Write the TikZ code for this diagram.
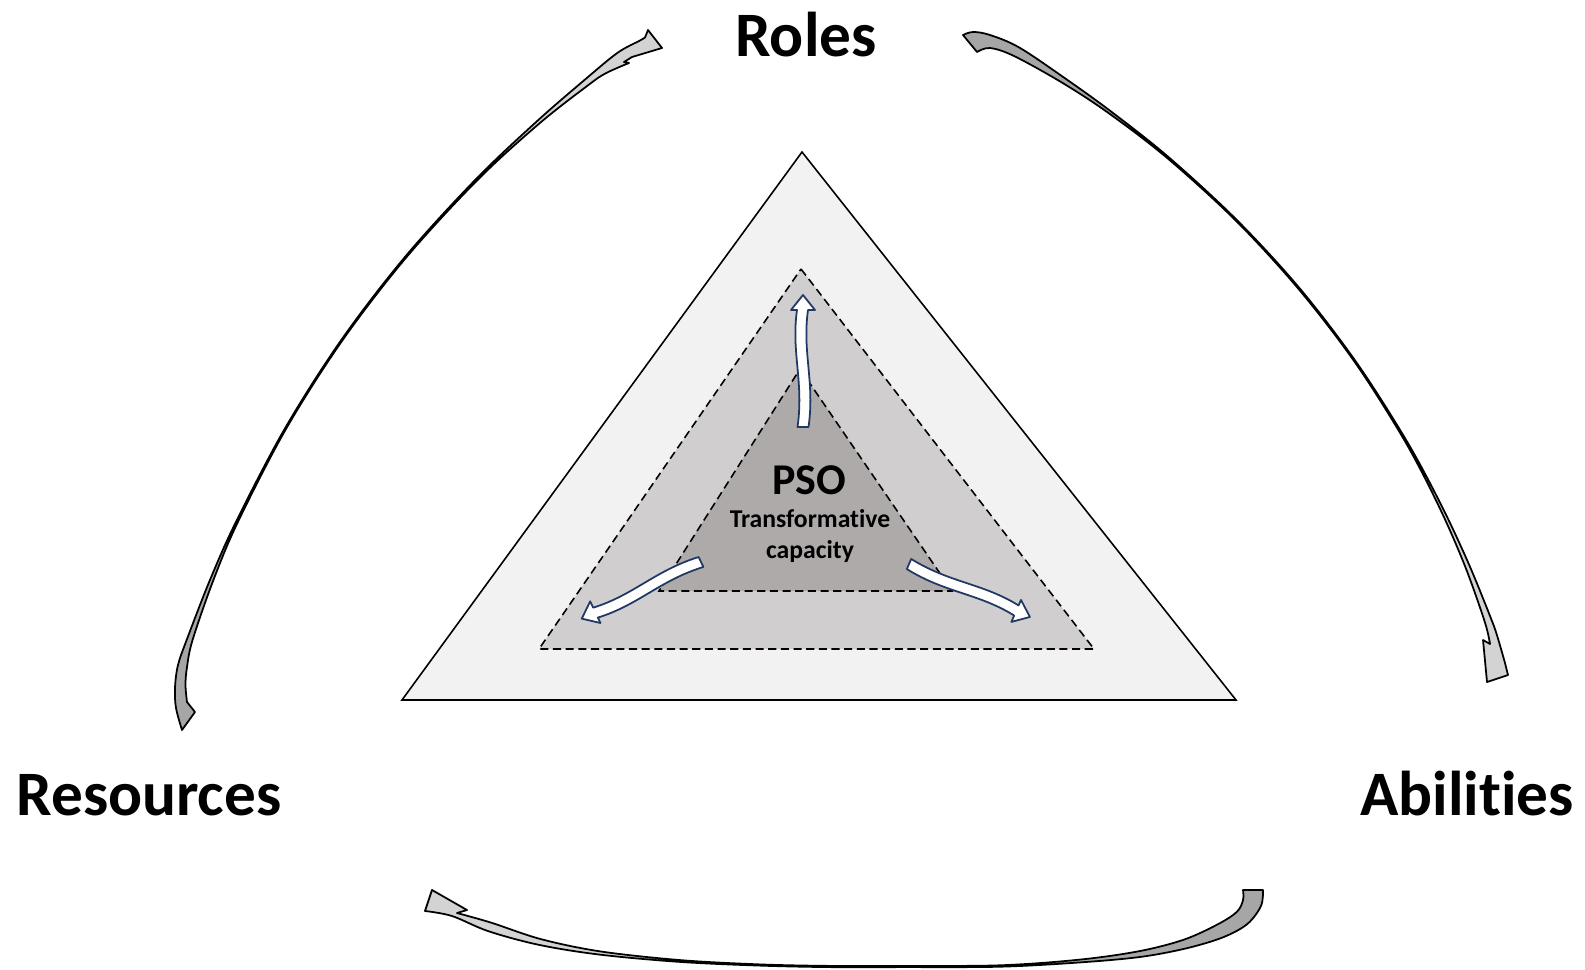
\documentclass[tikz,border=0pt]{standalone}
\usepackage{fontspec}
\setmainfont{Carlito}[Ligatures=NoCommon]
\definecolor{outerfill}{HTML}{F2F2F2}
\definecolor{midfill}{HTML}{D0CECE}
\definecolor{corefill}{HTML}{AEAAAA}
\definecolor{bandlight}{HTML}{D3D3D3}
\definecolor{banddark}{HTML}{A6A6A6}
\definecolor{navyline}{RGB}{32,56,100}

% outlines of the three large curved arrows (pixel units, y downwards)
\newcommand\bigarcA{plot[smooth,tension=0.55] coordinates {(182,730) (176,708) (175,688) (178,665) (187.4,638) (210.2,579.4) (236,521.8) (284.8,428.7) (341.2,340.1) (405.2,256.7) (476.1,179) (537,121.2) (584.7,79.8) (617.4,52.9) (640,40.5) (645,37.5)} -- (648,30) -- (662,48) -- (632,57) -- (624,62) -- (629,63) -- plot[smooth,tension=0.55] coordinates {(629,63) (606.1,73.1) (588.7,84.8) (539.2,123.6) (477.3,180.2) (406.2,257.5) (342.2,340.7) (285.8,429.3) (237.6,522.6) (213.2,580.6) (192.6,639.9) (187,667) (185.5,685) (187,702)} -- (195,712) -- cycle}
\newcommand\bigarcB{plot[smooth,tension=0.55] coordinates {(963,35) (973,32) (990,35) (1019.4,47.6) (1065.6,78.7) (1110.9,111.4) (1169,157.5) (1237.1,220.3) (1299.8,288.5) (1356.2,362.1) (1406.1,440) (1441.4,505.4) (1468.9,564.3) (1491.3,619.3) (1497.5,637) (1505,663)} -- (1508,675) -- (1487,682) -- (1483,640) -- (1490,644) -- plot[smooth,tension=0.55] coordinates {(1490,644) (1484.7,621.7) (1464.9,565.9) (1439,506.6) (1404.7,440.8) (1355.2,362.7) (1298.8,289.3) (1236.3,221.1) (1168,158.7) (1109.3,113.6) (1062.8,83.1) (1014.4,56.2) (990,48) (977,52)} -- cycle}
\newcommand\bigarcC{plot[smooth,tension=0.55] coordinates {(1263,890) (1261,905.9) (1247.3,924) (1223,937.3) (1186.4,948.3) (1140.5,956.9) (1080.1,962.4) (1000,966.7) (900,967.1) (830,967.1) (760,965.6) (679.9,961.9) (599.7,954.6) (539.2,944.9) (488.4,931.2) (452,916) (425,911)} -- (432,890) -- (467,910) -- (457,913) -- plot[smooth,tension=0.55] coordinates {(457,913) (491.6,922.8) (540.8,939.1) (600.3,951.4) (680.1,960.1) (760,964.4) (830,965.9) (900,965.9) (1000,965.3) (1079.9,959.6) (1139.5,951.1) (1183.7,939.7) (1217,924.7) (1236.7,912) (1243,900.1) (1243,890)} -- cycle}

\tikzset{
  pics/wavyarrow/.style={code={
    \draw[wavy] (0,5.5) .. controls (45,12) and (75,-1) .. (117,5)
      -- (117,12) -- (132,0) -- (117,-12) -- (117,-6)
      .. controls (75,-12) and (45,1) .. (0,-5.5) -- cycle;
  }}
}

\begin{document}
\begin{tikzpicture}[x=0.01cm,y=-0.01cm,
  cornertext/.style={font=\fontsize{18}{20}\selectfont\bfseries, inner sep=0pt, anchor=base},
  psotext/.style={font=\fontsize{12.5}{14}\selectfont\bfseries, inner sep=0pt, anchor=base},
  subtext/.style={font=\fontsize{7.3}{9}\selectfont\bfseries, inner sep=0pt, anchor=base},
  bandedge/.style={draw=black, line width=0.5pt, line join=round},
  solidtri/.style={draw=black, line width=0.45pt, fill=outerfill},
  dashtri/.style={draw=black, line width=0.45pt, dash pattern=on 2.3pt off 1.3pt},
  wavy/.style={draw=navyline, fill=white, line width=0.5pt, line join=round}]
\useasboundingbox (0,0) rectangle (1585,970);

% large curved arrows: light front face, dark back face towards the tail
\fill[bandlight] \bigarcA;
\begin{scope}
  \clip (31,87) -- (679,557) -- (209,1204) -- (-439,734) -- cycle;
  \fill[banddark] \bigarcA;
\end{scope}
\path[bandedge] \bigarcA;

\fill[bandlight] \bigarcB;
\begin{scope}
  \clip (1605,32) -- (993,546) -- (479,-67) -- (1091,-581) -- cycle;
  \fill[banddark] \bigarcB;
\end{scope}
\path[bandedge] \bigarcB;

\fill[bandlight] \bigarcC;
\begin{scope}
  \clip (850,850) rectangle (1300,990);
  \fill[banddark] \bigarcC;
\end{scope}
\path[bandedge] \bigarcC;

% nested triangles
\path[solidtri] (802,152) -- (1236,700) -- (402,700) -- cycle;
\path[dashtri, fill=midfill] (801,269) -- (1094,649) -- (539,649) -- cycle;
\path[dashtri, fill=corefill] (800,369) -- (952,591) -- (659,591) -- cycle;

% wavy arrows leaving the core
\pic[rotate=90] at (803,427) {wavyarrow};
\pic[rotate=-154.6] at (701,562) {wavyarrow};
\pic[rotate=-23.65] at (909,564) {wavyarrow};

% labels
\node[cornertext] (roles) at (806,57) {Roles};
\node[cornertext] (resources) at (149,815) {Resources};
\node[cornertext] (abilities) at (1467,815) {Abilities};
\node[psotext] (pso) at (809,494) {PSO};
\node[subtext] (transf) at (810,527) {Transformative};
\node[subtext] (capac) at (810,558) {capacity};
\end{tikzpicture}
\end{document}
